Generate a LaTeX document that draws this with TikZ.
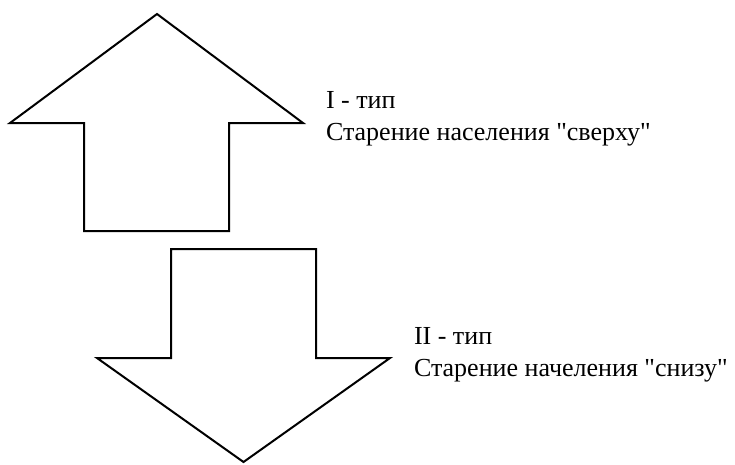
\documentclass[tikz,border=0pt]{standalone}
\usepackage{fontspec}
\setmainfont{Liberation Serif}[Ligatures=TeXOff]
\usepackage{tikz}

\begin{document}
\begin{tikzpicture}[x=1pt,y=-1pt,line width=2pt,
  label/.style={anchor=base west,inner sep=0pt,font=\fontsize{26}{32}\selectfont}]
\useasboundingbox (0,0) rectangle (735,464);

% Arrows
\draw (157,14) -- (303,123) -- (229,123) -- (229,231) -- (84,231) -- (84,123) -- (10,123) -- cycle;
\draw (171,249) -- (316,249) -- (316,358) -- (390,358) -- (243.5,462) -- (97,358) -- (171,358) -- cycle;

% Labels
\node[label] (up-type)   at (325,108.5) {I - тип};
\node[label] (up-text)   at (325,140.5) {Старение населения "сверху"};
\node[label] (down-type) at (413,344.5) {II - тип};
\node[label] (down-text) at (413,376) {Старение начеления "снизу"};

\end{tikzpicture}
\end{document}
